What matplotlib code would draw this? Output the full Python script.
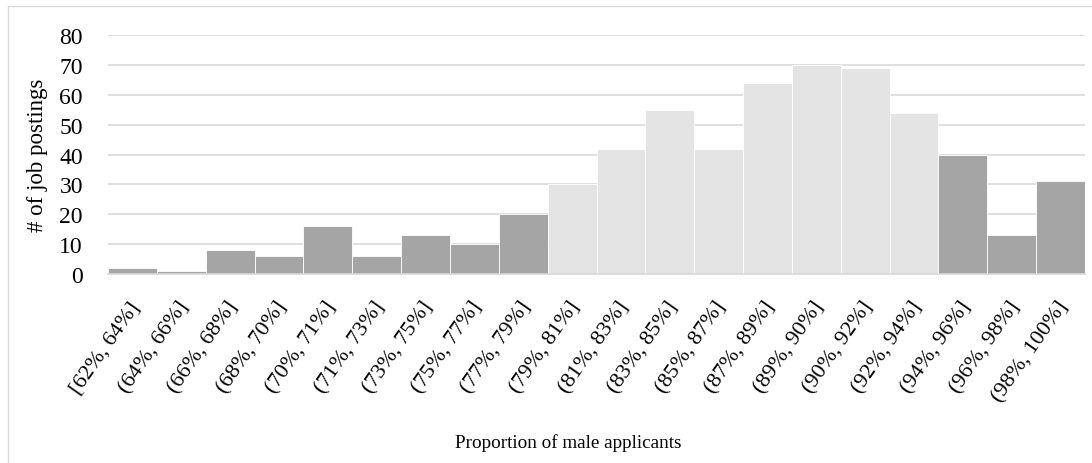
import numpy as np
import matplotlib.pyplot as plt
import matplotlib.patches as mpatches
import matplotlib.transforms as mtrans

#%% data
bins = ['[62%, 64%]', '(64%, 66%]', '(66%, 68%]', '(68%, 70%]', '(70%, 71%]',
        '(71%, 73%]', '(73%, 75%]', '(75%, 77%]', '(77%, 79%]', '(79%, 81%]',
        '(81%, 83%]', '(83%, 85%]', '(85%, 87%]', '(87%, 89%]', '(89%, 90%]',
        '(90%, 92%]', '(92%, 94%]', '(94%, 96%]', '(96%, 98%]', '(98%, 100%]']
counts = [2, 1, 8, 6, 16, 6, 13, 10, 20, 30, 42, 55, 42, 64, 70, 69, 54, 40, 13, 31]
# middle bins are highlighted in light grey
highlight = [False]*9 + [True]*8 + [False]*3

#%% plot
plt.rcParams['font.family'] = ['Liberation Serif', 'DejaVu Serif']

fig = plt.figure(figsize=[10.92, 4.64], dpi=100)
ax = fig.add_axes([0.0989, 0.4073, 0.8947, 0.5151])

colors = ['#e4e4e4' if h else '#a5a5a5' for h in highlight]
x = np.arange(len(bins))
ax.bar(x, counts, width=1.0, color=colors, edgecolor='white', linewidth=0.6, zorder=2)

ax.set_xlim(-0.5, len(bins) - 0.5)
ax.set_ylim(0, 80)
ax.set_yticks(range(0, 81, 10))
ax.yaxis.grid(True, color='#d9d9d9', linewidth=1.2, zorder=0)
ax.set_axisbelow(True)

ax.set_xticks(x)
ax.set_xticklabels(bins, rotation=55, ha='right', va='top', rotation_mode='anchor',
                   fontsize=16)
ax.tick_params(axis='x', length=0, pad=17)
ax.tick_params(axis='y', length=0, labelsize=17, pad=18)
# nudge tick labels a little to the left
shift = mtrans.ScaledTranslation(-4/100, 0, fig.dpi_scale_trans)
for lbl in ax.get_xticklabels():
    lbl.set_transform(lbl.get_transform() + shift)

for s in ['top', 'right', 'left']:
    ax.spines[s].set_visible(False)
ax.spines['bottom'].set_color('#d9d9d9')
ax.spines['bottom'].set_linewidth(1.2)

ax.set_ylabel('# of job postings', fontsize=16.5, labelpad=8)
fig.text(0.52, 0.035, 'Proportion of male applicants', ha='center', fontsize=13.8)

# chart outline
fig.patches.append(mpatches.Rectangle((8/1092, -0.1), 1.2, 1 - 7/464 + 0.1,
                                      transform=fig.transFigure, fill=False,
                                      edgecolor='#d9d9d9', linewidth=1.0))

plt.savefig('out.png', dpi=100)
